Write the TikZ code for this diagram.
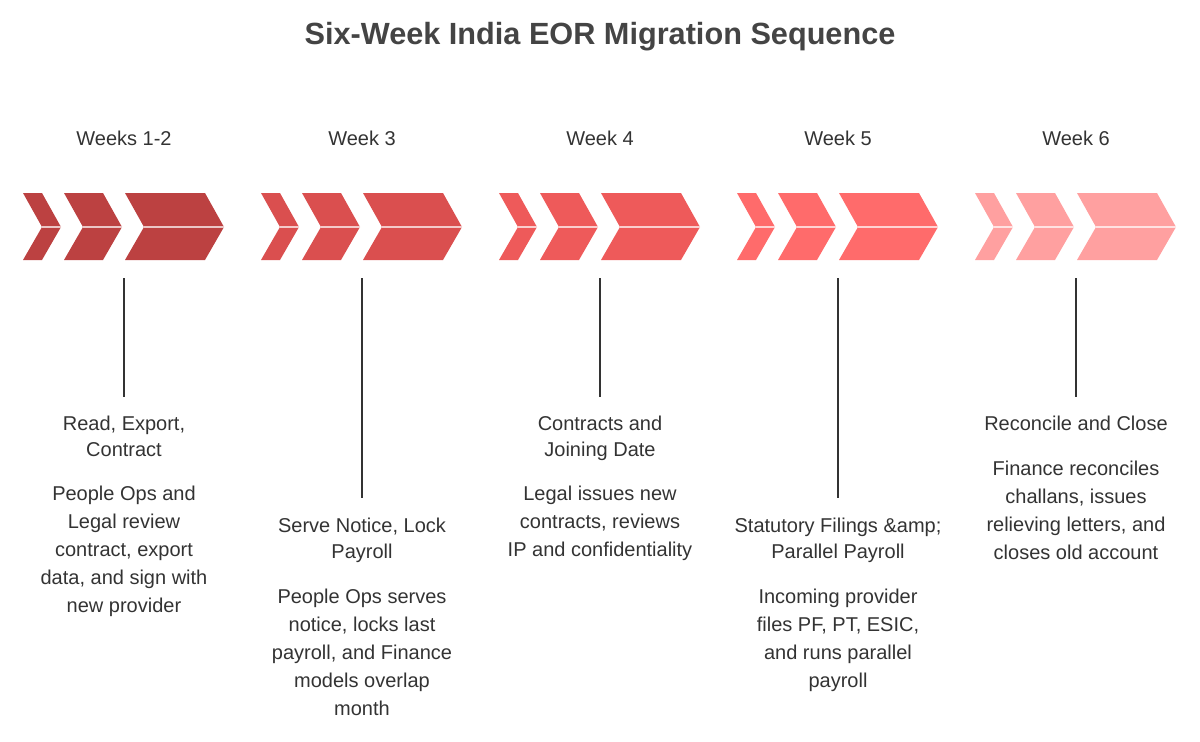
\documentclass[tikz,border=0pt]{standalone}
\usepackage{fontspec}
\setmainfont{Liberation Sans}
\usetikzlibrary{positioning}
\definecolor{ink}{HTML}{333333}
\definecolor{titleink}{HTML}{444444}
\definecolor{c1}{HTML}{BC4141}
\definecolor{c2}{HTML}{DA4F4F}
\definecolor{c3}{HTML}{EE5A5A}
\definecolor{c4}{HTML}{FF6B6B}
\definecolor{c5}{HTML}{FFA0A0}
\tikzset{
  week/.style={font=\fontsize{15}{18}\selectfont, text=ink},
  head/.style={font=\fontsize{15}{19}\selectfont, text=ink, align=center, anchor=north, inner sep=0pt},
  desc/.style={font=\fontsize{15}{21}\selectfont, text=ink, align=center, anchor=north, inner sep=0pt},
  stem/.style={ink, line width=1pt},
}
\begin{document}
\begin{tikzpicture}[x=0.75pt,y=-0.75pt]
	\useasboundingbox (0,0) rectangle (1200,742);
	
	\node[font=\fontsize{23}{26}\selectfont\bfseries, text=titleink] (title) at (600,37) {Six-Week India EOR Migration Sequence};
	
	% chevron groups
	\foreach \i/\col/\wk in {0/c1/Weeks 1-2, 1/c2/Week 3, 2/c3/Week 4, 3/c4/Week 5, 4/c5/Week 6} {
		\pgfmathsetmacro{\gx}{23+238*\i}
		\foreach \l/\w in {0/19, 41/39, 102/80} {
			\fill[\col] (\gx+\l,193) -- (\gx+\l+\w,193) -- (\gx+\l+\w+19,227) -- (\gx+\l+\w,260) -- (\gx+\l,260) -- (\gx+\l+19,227) -- cycle;
			\draw[white!70!\col, line width=0.8pt] (\gx+\l+19,227) -- (\gx+\l+\w+19,227);
		}
		\node[week] (w\i) at (\gx+101,138) {\wk};
	}
	
	% stems
	\coordinate (s0a) at (124,278); \coordinate (s0b) at (124,397);
	\coordinate (s1a) at (362,278); \coordinate (s1b) at (362,498);
	\coordinate (s2a) at (600,278); \coordinate (s2b) at (600,397);
	\coordinate (s3a) at (838,278); \coordinate (s3b) at (838,498);
	\coordinate (s4a) at (1076,278); \coordinate (s4b) at (1076,397);
	\foreach \i in {0,...,4} \draw[stem] (s\i a) -- (s\i b);
	
	% texts
	\node[head] (h0) at (124,416) {Read, Export,\\Contract};
	\node[desc] (d0) at (124,486) {People Ops and\\Legal review\\contract, export\\data, and sign with\\new provider};
	\node[head] (h1) at (362,518) {Serve Notice, Lock\\Payroll};
	\node[desc] (d1) at (362,589) {People Ops serves\\notice, locks last\\payroll, and Finance\\models overlap\\month};
	\node[head] (h2) at (600,416) {Contracts and\\Joining Date};
	\node[desc] (d2) at (600,486) {Legal issues new\\contracts, reviews\\IP and confidentiality};
	\node[head] (h3) at (838,518) {Statutory Filings \&amp;\\Parallel Payroll};
	\node[desc] (d3) at (838,589) {Incoming provider\\files PF, PT, ESIC,\\and runs parallel\\payroll};
	\node[head] (h4) at (1076,416) {Reconcile and Close};
	\node[desc] (d4) at (1076,461) {Finance reconciles\\challans, issues\\relieving letters, and\\closes old account};
\end{tikzpicture}
\end{document}
